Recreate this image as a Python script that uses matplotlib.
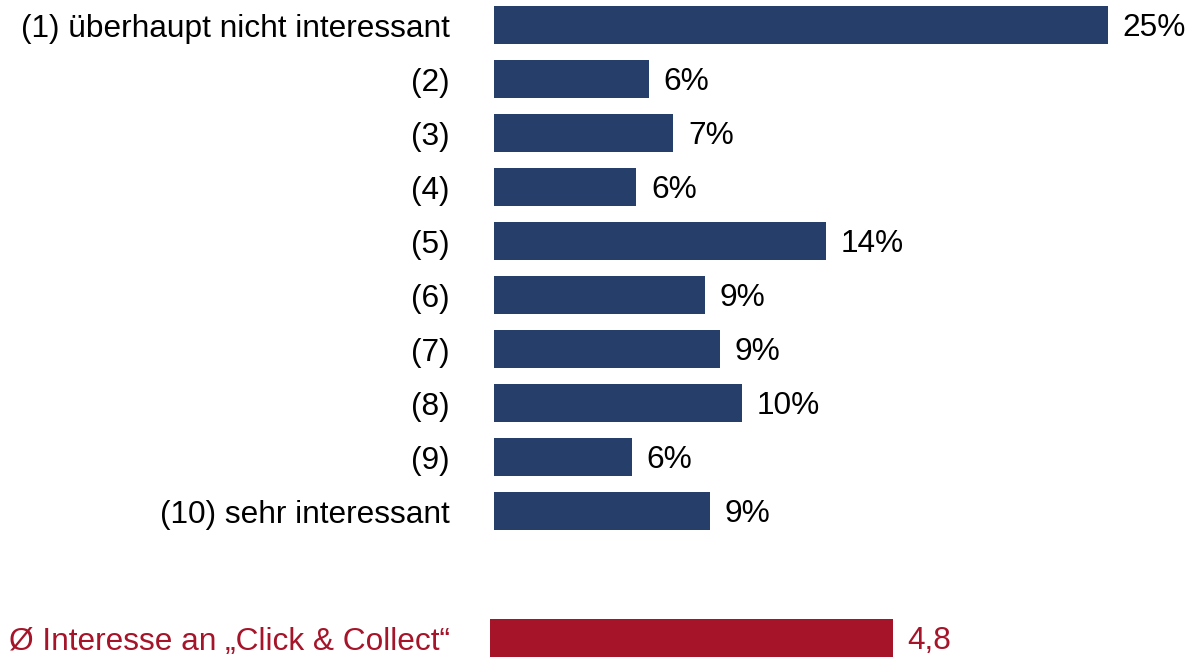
import matplotlib
matplotlib.use("Agg")
import matplotlib.pyplot as plt

plt.rcParams['font.family'] = ['Liberation Sans', 'DejaVu Sans']

categories = ["(1) überhaupt nicht interessant", "(2)", "(3)", "(4)", "(5)",
              "(6)", "(7)", "(8)", "(9)", "(10) sehr interessant"]
shares = [25.0, 6.3, 7.3, 5.8, 13.5, 8.6, 9.2, 10.1, 5.6, 8.8]
avg_label = "Ø Interesse an „Click & Collect“"
avg_value = 4.8

navy = "#263f6a"
red = "#a51429"
fs = 22.8

fig = plt.figure(figsize=(11.93, 6.57), dpi=100)

# distribution bars
ax = fig.add_axes([494 / 1193, 0.1811, 687.7 / 1193, 540 / 657])
ypos = list(range(len(categories)))
ax.barh(ypos, shares, height=0.72, color=navy)
for y, v in zip(ypos, shares):
    ax.text(v + 0.6, y + 0.06, f"{round(v)}%", va="center", ha="left", fontsize=fs, color="black")
ax.set_xlim(0, 28)
ax.set_ylim(9.5, -0.5)
ax.set_yticks(ypos)
ax.set_yticklabels(categories, fontsize=fs)
ax.tick_params(axis="y", length=0, pad=31.7)
ax.set_xticks([])
for s in ax.spines.values():
    s.set_visible(False)

# average bar
ax2 = fig.add_axes([490 / 1193, 0.0, 840 / 1193, 38 / 657])
ax2.barh([0], [avg_value], height=1.0, color=red)
ax2.text(avg_value + 0.17, -0.08, f"{avg_value:.1f}".replace(".", ","), va="center", ha="left",
         fontsize=fs, color=red)
ax2.set_xlim(0, 10)
ax2.set_ylim(-0.5, 0.5)
ax2.set_yticks([0])
ax2.set_yticklabels([avg_label], fontsize=fs, color=red)
ax2.tick_params(axis="y", length=0, pad=28.8)
ax2.set_xticks([])
for s in ax2.spines.values():
    s.set_visible(False)

fig.savefig("out.png", dpi=100)
